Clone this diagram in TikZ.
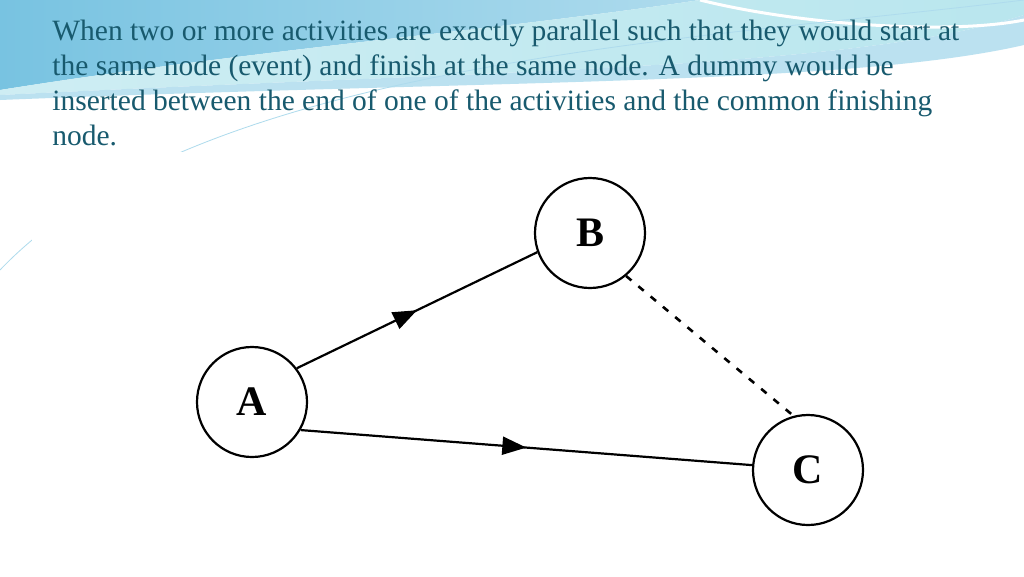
\documentclass[tikz,border=0pt]{standalone}
\usepackage{fontspec}
\setmainfont{Liberation Serif}
\usetikzlibrary{decorations.markings,arrows.meta}
\definecolor{slideteal}{RGB}{24,90,110}
\definecolor{swooshA}{RGB}{120,195,225}
\definecolor{swooshB}{RGB}{185,230,238}
\tikzset{every picture/.style={line width=0.75pt}}
\tikzset{
event/.style={circle,draw,line width=2.2pt,minimum size=110pt,inner sep=0pt,font=\fontsize{42}{42}\selectfont\bfseries},
activity/.style={line width=2.2pt,postaction={decorate},decoration={markings,mark=at position 0.5 with {\arrow{Triangle[length=24pt,width=18pt]}}}},
dummy/.style={line width=2.6pt,dash pattern={on 7pt off 9pt}}}

\begin{document}
\begin{tikzpicture}[x=1pt,y=1pt,yscale=-1,xscale=1]
\useasboundingbox (0,0) rectangle (1024,576);
\fill[white] (0,0) rectangle (1024,576);

%Background swoosh
\shade[left color=swooshA,right color=swooshA!60] (0,0) -- (700,0) .. controls (500,30) and (250,50) .. (0,90) -- cycle;
\shade[left color=swooshB!70,right color=swooshB] (0,90) .. controls (250,50) and (500,30) .. (700,0) -- (1024,0) -- (1024,15) .. controls (850,70) and (500,70) .. (0,95) -- cycle;
\fill[swooshA!50] (0,95) .. controls (500,70) and (850,70) .. (1024,15) -- (1024,45) .. controls (850,85) and (500,80) .. (0,100) -- cycle;
\draw[white,line width=3pt] (700,0) .. controls (800,25) and (950,35) .. (1024,20);
\draw[swooshA!60,line width=0.8pt] (0,270) .. controls (200,60) and (700,40) .. (1024,0);

%Text
\node[anchor=north west,align=left,text=slideteal,inner sep=0pt,font=\fontsize{29.5}{35}\selectfont] (text) at (52,20)
{When two or more activities are exactly parallel such that they would start at\\
the same node (event) and finish at the same node. A dummy would be\\
inserted between the end of one of the activities and the common finishing\\
node.};

%Diagram
\fill[white] (32,152) rectangle (936,576);
\node[event] (A) at (252,402) {A};
\node[event] (B) at (590,233) {B};
\node[event] (C) at (808,470) {C};

\draw[activity] (A.37) -- (B.200);
\draw[activity] (A.-30) -- (C.175);
\draw[dummy] (B.-50) -- (C.105);

\end{tikzpicture}
\end{document}
